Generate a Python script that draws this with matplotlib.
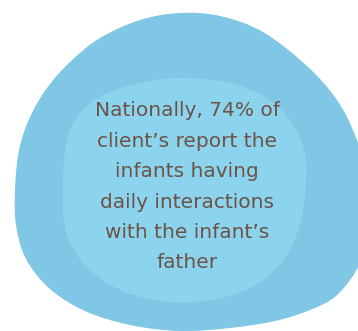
import matplotlib.pyplot as plt
import numpy as np
from matplotlib.path import Path
from matplotlib.patches import PathPatch

# outline points of the two blobs (pixel coords, y down)
outer_x = [15, 19, 30, 47, 70, 100, 140, 180, 220, 263, 307, 337, 355, 367,
           370, 360, 337, 310, 275, 230, 180, 130, 85, 50, 26, 16]
outer_y = [190, 150, 117, 88, 62, 38, 20, 13, 16, 32, 66, 100, 135, 175,
           220, 263, 295, 310, 321, 328, 331, 325, 311, 289, 259, 225]
inner_x = [63, 64, 70, 85, 110, 145, 180, 230, 270, 293, 304, 306, 300, 282,
           250, 210, 170, 125, 92, 72, 64]
inner_y = [195, 160, 130, 108, 92, 82, 78, 83, 100, 125, 150, 180, 225, 262,
           288, 300, 302, 292, 272, 247, 222]

lines = [
    "Nationally, 74% of",
    "client\u2019s report the",
    "infants having",
    "daily interactions",
    "with the infant\u2019s",
    "father",
]


def blob_path(xs, ys):
    pts = np.column_stack([xs, ys]).astype(float)
    n = len(pts)
    verts = [pts[0]]
    codes = [Path.MOVETO]
    for i in range(n):
        p0, p1, p2, p3 = pts[i - 1], pts[i], pts[(i + 1) % n], pts[(i + 2) % n]
        c1 = p1 + (p2 - p0) / 6
        c2 = p2 - (p3 - p1) / 6
        verts += [c1, c2, p2]
        codes += [Path.CURVE4] * 3
    return Path(verts, codes)


fig = plt.figure(figsize=(3.58, 3.31), dpi=100)
ax = fig.add_axes([0, 0, 1, 1])
ax.set_xlim(0, 358)
ax.set_ylim(331, 0)
ax.axis("off")

ax.add_patch(PathPatch(blob_path(outer_x, outer_y), fc="#7fc7e5", ec="none"))
ax.add_patch(PathPatch(blob_path(inner_x, inner_y), fc="#8cd4ed", ec="none"))

for i, t in enumerate(lines):
    ax.text(187, 111 + i * 30.4, t, ha="center", va="center",
            fontsize=14.5, color="#6b5347", family="DejaVu Sans")

fig.savefig("out.png", dpi=100)
